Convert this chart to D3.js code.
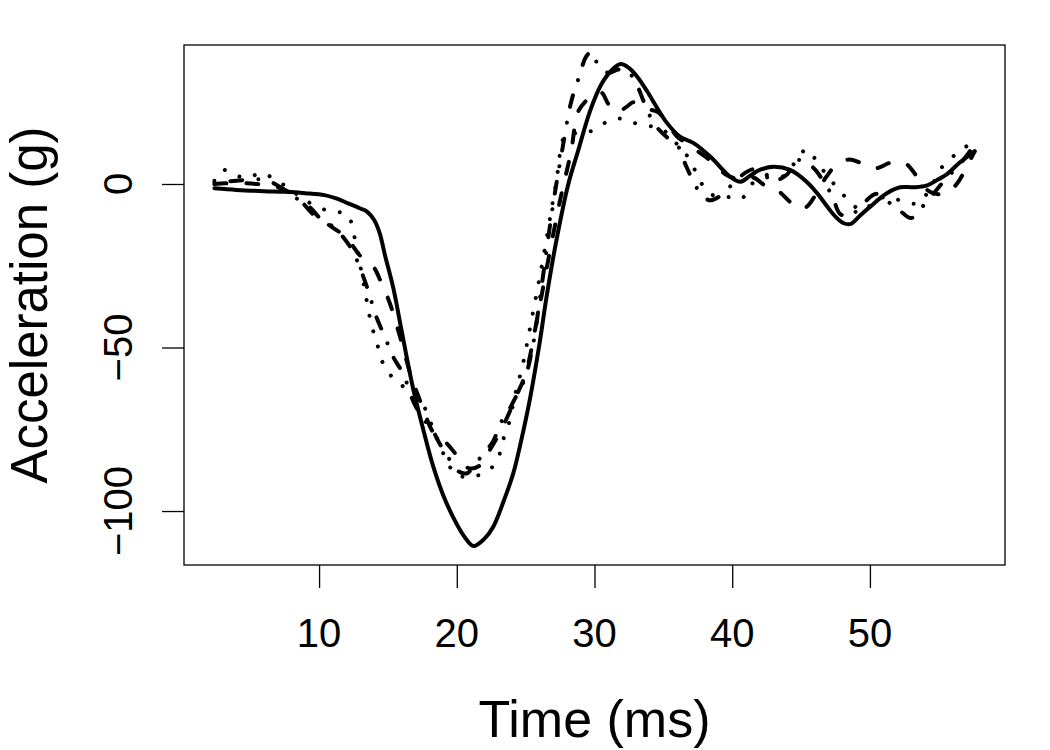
<!DOCTYPE html>
<html lang="en">
<head>
<meta charset="UTF-8">
<title>Acceleration vs time</title>
<script src="https://d3js.org/d3.v7.min.js"></script>
<style>
  body { margin: 0; background: #fff; }
  svg { display: block; font-family: "Liberation Sans", Arial, sans-serif; }
</style>
</head>
<body>
<div id="chart"></div>
<script>
// x axis ticks and y axis ticks
var xTicks = [10, 20, 30, 40, 50];
var yTicks = [-100, -50, 0];

// solid curve (lty 1)
var solidT = [2.4, 4, 6, 7.5, 9, 10.4, 11.3, 12.1, 13, 13.5, 14, 14.4, 14.8, 15.4, 16, 16.8, 17.5, 18.3, 19, 19.75, 20.5, 21.2, 22, 22.65, 23.4, 24.1, 24.7, 25.3, 26, 26.5, 27.2, 28.1, 28.8, 29.7, 30.5, 31.3, 31.9, 32.5, 33.1, 33.8, 34.5, 35.2, 36.2, 37.2, 38.4, 39.85, 40.6, 41.3, 42, 43, 44.2, 45.4, 46.2, 46.9, 47.5, 48.1, 48.6, 49.2, 50, 51.2, 52.2, 53.2, 54.1, 55, 55.6, 56.5, 57.6];
var solidA = [-1.3, -1.8, -2.2, -2.4, -2.8, -3.4, -4.5, -5.9, -7.5, -8.5, -11, -15, -22, -32, -45, -62, -74, -86.5, -95, -102, -107.5, -110.7, -108.5, -104.8, -97, -88.5, -78, -66, -49, -35, -18, 0, 10, 22.6, 30.5, 35, 36.7, 35.5, 32.8, 28.5, 23.6, 19, 14.5, 12.5, 8.4, 2.2, 0.7, 2.5, 4.3, 5.3, 4.3, 0.7, -3, -6.9, -10, -12, -12.2, -10, -7, -2.9, -1, -1, -0.5, 1.5, 3, 6.5, 10];

// dashed curve (lty 2)
var dashT = [2.4, 4, 5.5, 7, 8.4, 9.5, 10.7, 12, 13, 13.9, 14.5, 15.1, 15.9, 16.7, 17.5, 18.3, 19.2, 20, 20.5, 21, 21.7, 22.3, 23, 23.7, 24.3, 25, 25.8, 26.7, 27.5, 28.3, 28.8, 29.4, 30, 30.5, 31, 31.6, 32.3, 32.8, 33.3, 33.8, 34.6, 35.3, 36, 37, 38, 38.6, 39.5, 40.5, 41.5, 42.4, 43.3, 44.2, 44.8, 45.4, 46.1, 46.8, 47.6, 48.5, 49.3, 50.4, 51.5, 52.5, 53.2, 53.8, 54.6, 55.5, 56.3, 57, 57.6];
var dashA = [0, 0.3, 0, -1, -4, -9, -12.5, -16.5, -22, -25, -30, -36, -47, -59, -68, -76, -79, -83, -86, -87, -86, -82, -77, -71, -65, -58, -42, -22, -5, 10, 22, 25.5, 27.5, 28, 24.5, 22, 23.5, 25, 24, 23, 22, 18.5, 14.5, 11.5, 8.5, 6.5, 3, 1.5, 2, -0.5, -2, -5.5, -7.5, -7, -3, 2, 6, 7.5, 6.5, 4.8, 6.5, 6.5, 3.5, -0.5, -2.8, -3, 0, 5, 10];

// dotted curve (lty 3)
var dotT = [2.4, 3, 4, 5, 5.7, 6.9, 8, 9, 10.3, 11.3, 12.1, 12.5, 12.8, 13.3, 13.8, 14.2, 14.6, 15.3, 16, 17, 17.6, 18.2, 18.8, 19.3, 20, 21, 21.9, 22.9, 23.3, 23.8, 24.2, 24.8, 25.5, 26.3, 27.2, 27.9, 28.6, 29.3, 29.9, 30.9, 31.8, 32.6, 33.5, 34.3, 35, 35.8, 36.5, 37.2, 37.8, 38.4, 39.2, 40, 40.7, 41.5, 42.5, 43.7, 44.6, 45.4, 46.2, 47, 48, 48.8, 49.4, 50.2, 51.1, 52.2, 53.4, 54.3, 55.2, 56.2, 57, 57.6];
var dotA = [1, 4.3, 2.5, 2, 3.4, 1.2, -2, -5, -7.7, -8.5, -9.5, -15, -20.8, -32, -43, -48.6, -54.4, -59, -61.5, -66, -68, -74, -80, -85, -89, -89.5, -88.5, -85, -79, -73, -65, -55, -40, -22, 0, 15, 15.5, 15.5, 16.5, 19, 20, 19, 18, 17.5, 16.5, 13, 10, 5, 0, -3, -4, -4, -4.4, 0.3, 2, 2.4, 6.8, 10.6, 6.5, 2, -3, -6.5, -8, -6, -3.9, -5, -5.9, -2, 5, 9, 11.5, 14];

// dot-dash curve (lty 4)
var dotDashT = [2.4, 4, 5.5, 6.3, 7.2, 8.4, 9.3, 10.2, 11, 11.8, 12.5, 13, 13.6, 14.1, 14.8, 15.4, 16.1, 16.9, 17.6, 18.2, 18.7, 19.3, 20, 20.7, 21.3, 22, 22.6, 23.2, 23.8, 24.3, 24.9, 25.5, 26.2, 27, 27.6, 28.3, 28.9, 29.4, 29.8, 30.3, 31, 31.7, 32.3, 33, 33.5, 34, 34.6, 35.2, 36, 36.6, 37.1, 37.8, 38.4, 39, 39.6, 40.5, 41.5, 42.3, 43, 44, 44.7, 45.8, 46.6, 47.3, 47.8, 48.5, 49.5, 50.5, 51.5, 52.3, 53, 53.8, 54.6, 55.5, 56.6, 57.6];
var dotDashA = [0.5, 1, 1.5, 1, -1, -4.5, -7, -11, -13, -16.5, -21, -26, -33, -40, -47, -53, -58, -67, -72, -75, -79, -83, -87.5, -88.5, -86, -82, -79, -73, -69, -65, -60, -50, -30, -6, 9, 25, 33, 39, 40.5, 36, 34, 35, 35, 31, 26, 21, 17, 14.5, 12, 6, 1.5, -3.5, -5, -4, -1.8, 2, 4.5, 3.5, 1, 3, 7.3, 5.3, 1, -4, -9, -10, -6, -3, -6, -8.6, -10.4, -7, -3, 1.5, 6.4, 12];

var width = 1050, height = 750;
var margin = {top: 45, right: 45, bottom: 185, left: 184};

var svg = d3.select("#chart")
  .append("svg")
    .attr("width", width)
    .attr("height", height);

var x = d3.scaleLinear()
  .domain([0.192, 59.808])
  .range([margin.left, width - margin.right]);

var y = d3.scaleLinear()
  .domain([-116.5, 42.5])
  .range([height - margin.bottom, margin.top]);

svg.append("clipPath").attr("id", "plotclip")
  .append("rect")
    .attr("x", margin.left)
    .attr("y", margin.top)
    .attr("width", width - margin.left - margin.right)
    .attr("height", height - margin.top - margin.bottom);

// curves
var series = [
  {t: solidT, a: solidA, dash: null},
  {t: dashT, a: dashA, dash: "12,20"},
  {t: dotT, a: dotA, dash: "0.001,16"},
  {t: dotDashT, a: dotDashA, dash: "0.001,16,12,16"}
];

var line = d3.line()
  .x(function(d) { return x(d[0]); })
  .y(function(d) { return y(d[1]); })
  .curve(d3.curveCatmullRom.alpha(0.5));

var g = svg.append("g").attr("clip-path", "url(#plotclip)");
series.forEach(function(s) {
  var pts = s.t.map(function(t, i) { return [t, s.a[i]]; });
  g.append("path")
    .attr("d", line(pts))
    .attr("fill", "none")
    .attr("stroke", "#000")
    .attr("stroke-width", 4)
    .attr("stroke-linecap", "round")
    .attr("stroke-linejoin", "round")
    .attr("stroke-dasharray", s.dash);
});

// box
svg.append("rect")
  .attr("x", margin.left)
  .attr("y", margin.top)
  .attr("width", width - margin.left - margin.right)
  .attr("height", height - margin.top - margin.bottom)
  .attr("fill", "none")
  .attr("stroke", "#000")
  .attr("stroke-width", 1.3);

// x axis
var xAxis = svg.append("g")
  .attr("transform", "translate(0," + (height - margin.bottom) + ")")
  .call(d3.axisBottom(x).tickValues(xTicks).tickSize(23).tickPadding(0).tickFormat(""));
xAxis.select(".domain").remove();
xAxis.selectAll("line").attr("stroke", "#000").attr("stroke-width", 1.3);

svg.selectAll(".xlab")
  .data(xTicks)
  .enter().append("text")
    .attr("x", function(d) { return x(d); })
    .attr("y", 647)
    .attr("text-anchor", "middle")
    .attr("font-size", 40)
    .text(function(d) { return d; });

// y axis
var yAxis = svg.append("g")
  .attr("transform", "translate(" + margin.left + ",0)")
  .call(d3.axisLeft(y).tickValues(yTicks).tickSize(22).tickPadding(0).tickFormat(""));
yAxis.select(".domain").remove();
yAxis.selectAll("line").attr("stroke", "#000").attr("stroke-width", 1.3);

svg.selectAll(".ylab")
  .data(yTicks)
  .enter().append("text")
    .attr("transform", function(d) { return "translate(132," + y(d) + ") rotate(-90)"; })
    .attr("text-anchor", "middle")
    .attr("font-size", 40)
    .text(function(d) { return d < 0 ? "\u2212" + Math.abs(d) : d; });

// axis titles
svg.append("text")
  .attr("x", (margin.left + width - margin.right) / 2)
  .attr("y", 737)
  .attr("text-anchor", "middle")
  .attr("font-size", 52)
  .text("Time (ms)");

svg.append("text")
  .attr("transform", "translate(47," + (margin.top + (height - margin.top - margin.bottom) / 2) + ") rotate(-90)")
  .attr("text-anchor", "middle")
  .attr("font-size", 51)
  .text("Acceleration (g)");
</script>
</body>
</html>
